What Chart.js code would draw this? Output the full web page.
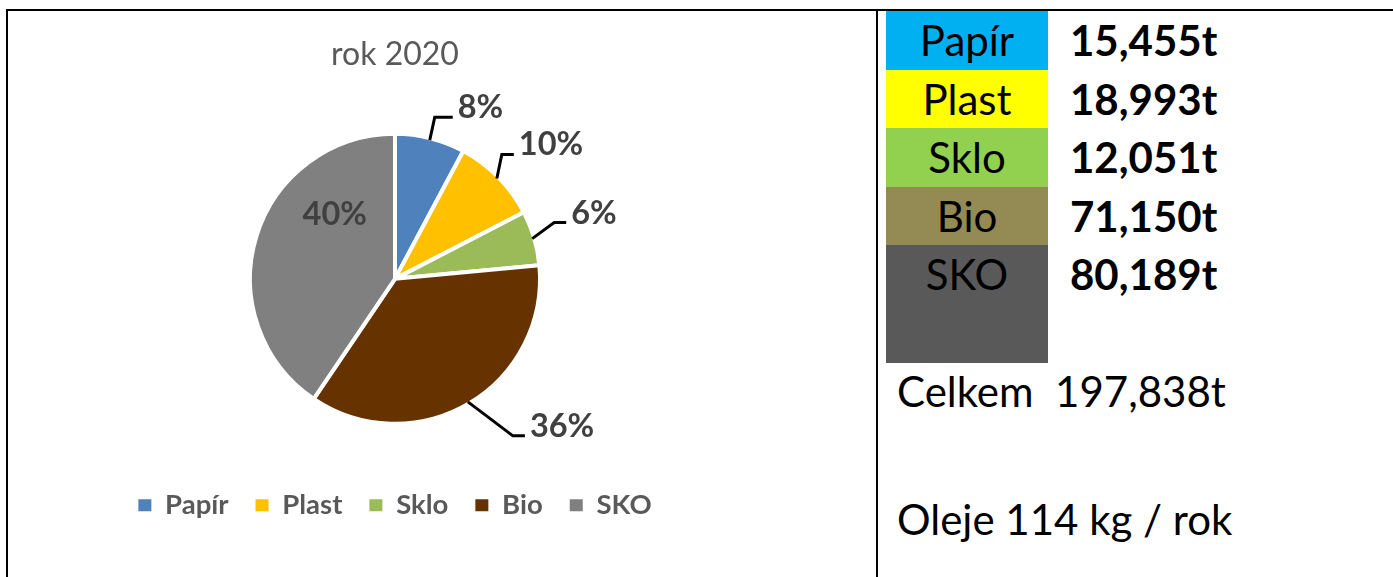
<!DOCTYPE html>
<html>
<head>
<meta charset="utf-8">
<script src="https://cdn.jsdelivr.net/npm/chart.js@4.4.0/dist/chart.umd.min.js"></script>
<style>
    body { margin: 0; width: 1393px; height: 577px; overflow: hidden; background: #fff; position: relative; font-family: Lato, sans-serif; }
    .rule { position: absolute; background: #000; }
    #chart-box { position: absolute; left: 7px; top: 11px; width: 776px; height: 566px; }
    .swatch { position: absolute; left: 886px; width: 162px; height: 58.6px; font-size: 42px; line-height: 58.6px; text-align: center; color: #000; }
    .amount { position: absolute; left: 1070px; height: 58.6px; font-size: 42px; line-height: 58.6px; font-weight: bold; color: #000; }
    .note { position: absolute; left: 897px; font-size: 42px; line-height: 50px; color: #000; white-space: pre; }
</style>
</head>
<body>
<div class="rule" style="left:6px; top:9px; width:1387px; height:2px;"></div>
<div class="rule" style="left:6px; top:9px; width:2px; height:568px;"></div>
<div class="rule" style="left:876px; top:9px; width:2px; height:568px;"></div>
<div id="chart-box"><canvas id="pie-chart"></canvas></div>
<div id="table-box"></div>
<div class="note" id="total-note" style="top:366px;"></div>
<div class="note" id="oil-note" style="top:494px;"></div>
<script>
const categories = ['Papír', 'Plast', 'Sklo', 'Bio', 'SKO'];
const tonnes = [15.455, 18.993, 12.051, 71.150, 80.189];
const tonneLabels = ['15,455t', '18,993t', '12,051t', '71,150t', '80,189t'];
const percentLabels = ['8%', '10%', '6%', '36%', '40%'];
const totalLabel = '197,838t';
const oilLabel = 'Oleje 114 kg / rok';
const chartTitle = 'rok 2020';

const pieColors = ['#4F81BD', '#FFC000', '#9BBB59', '#663300', '#808080'];
const tableColors = ['#00B0F0', '#FFFF00', '#92D050', '#948A54', '#595959'];

// table on the right
const tableBox = document.getElementById('table-box');
categories.forEach((name, i) => {
    const top = 11 + i * 58.6;
    const cell = document.createElement('div');
    cell.className = 'swatch';
    cell.style.top = top + 'px';
    cell.style.background = tableColors[i];
    if (i === categories.length - 1) cell.style.height = '118px';
    cell.textContent = name;
    tableBox.appendChild(cell);

    const amount = document.createElement('div');
    amount.className = 'amount';
    amount.style.top = top + 'px';
    amount.textContent = tonneLabels[i];
    tableBox.appendChild(amount);
});
document.getElementById('total-note').textContent = 'Celkem  ' + totalLabel;
document.getElementById('oil-note').textContent = oilLabel;

// percentage labels with elbow leader lines
const leaderLabels = {
    id: 'leaderLabels',
    afterDatasetsDraw(chart, args, opts) {
        const ctx = chart.ctx;
        const arcs = chart.getDatasetMeta(0).data;
        ctx.save();
        ctx.font = 'bold ' + opts.size + 'px Lato';
        ctx.fillStyle = opts.color;
        ctx.strokeStyle = '#000';
        ctx.lineWidth = 3;
        arcs.forEach((arc, i) => {
            const p = arc.getProps(['x', 'y', 'startAngle', 'endAngle', 'outerRadius'], true);
            const mid = (p.startAngle + p.endAngle) / 2;
            const leg = opts.leaders[i];
            if (!leg) {
                const a = mid + opts.insideShift;
                const r = p.outerRadius * opts.insideFrac;
                ctx.textAlign = 'center';
                ctx.textBaseline = 'middle';
                ctx.fillText(percentLabels[i], p.x + Math.cos(a) * r, p.y + Math.sin(a) * r);
                return;
            }
            const ex = p.x + Math.cos(mid) * (p.outerRadius - 2);
            const ey = p.y + Math.sin(mid) * (p.outerRadius - 2);
            const bx = ex + leg[0];
            const by = ey + leg[1];
            const tx = bx + leg[2];
            ctx.beginPath();
            ctx.moveTo(ex, ey);
            ctx.lineTo(bx, by);
            ctx.lineTo(tx, by);
            ctx.stroke();
            ctx.textAlign = 'left';
            ctx.textBaseline = 'alphabetic';
            ctx.fillText(percentLabels[i], tx + 5, by + 1);
        });
        ctx.restore();
    }
};

const pieLegendLabels = Chart.overrides.pie.plugins.legend.labels.generateLabels;

new Chart(document.getElementById('pie-chart'), {
    type: 'pie',
    data: {
        labels: categories,
        datasets: [{
            data: tonnes,
            backgroundColor: pieColors,
            borderColor: '#ffffff',
            borderWidth: 4
        }]
    },
    options: {
        responsive: true,
        maintainAspectRatio: false,
        animation: false,
        events: [],
        radius: 145,
        layout: { padding: { top: 0, bottom: 48, left: 0, right: 0 } },
        plugins: {
            title: {
                display: true,
                text: chartTitle,
                color: '#595959',
                font: { family: 'Lato', size: 32, weight: 'normal' },
                padding: { top: 24.8, bottom: 19 }
            },
            legend: {
                position: 'bottom',
                labels: {
                    color: '#595959',
                    font: { family: 'Lato', size: 27.5, weight: 'bold' },
                    boxWidth: 13,
                    boxHeight: 12,
                    padding: 27,
                    generateLabels: chart => pieLegendLabels(chart).map(item => ({ ...item, lineWidth: 0, strokeStyle: item.fillStyle }))
                }
            },
            tooltip: { enabled: false },
            leaderLabels: {
                size: 32.5,
                color: '#404040',
                insideShift: 30 * Math.PI / 180,
                insideFrac: 0.61,
                leaders: [[5, -23, 18], [5, -24, 12], [22, -16, 12], [45, 34, 12], null]
            }
        }
    },
    plugins: [leaderLabels]
});
</script>
</body>
</html>
